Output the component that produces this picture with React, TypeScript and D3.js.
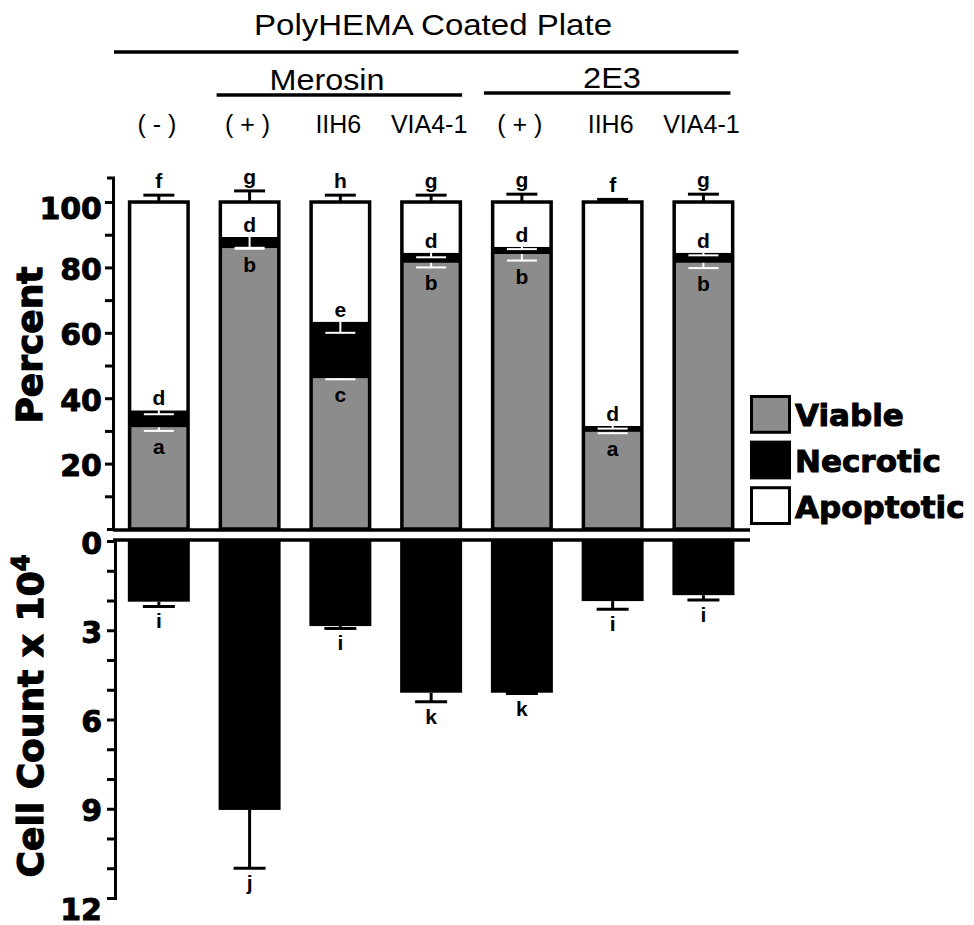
import React, { useEffect, useRef } from 'react';
import * as d3 from 'd3';

// values
const categories = ['( - )', '( + )', 'IIH6', 'VIA4-1', '( + )', 'IIH6', 'VIA4-1'];
const viable = [31.1, 85.9, 46.1, 81.4, 84.1, 29.7, 81.4];
const necrotic = [5.2, 3.4, 17.3, 3.1, 2.2, 1.8, 3.1];
const viableErr = [1.1, 0.2, 0.3, 1.4, 2.0, 0.4, 1.6];
const necroticErr = [1.2, 3.3, 3.4, 1.4, 0.7, 0.8, 0.8];
const apoptoticErr = [2.1, 3.4, 2.1, 2.1, 2.4, 0.8, 2.4];
const viableLetters = ['a', 'b', 'c', 'b', 'b', 'a', 'b'];
const necroticLetters = ['d', 'd', 'e', 'd', 'd', 'd', 'd'];
const apoptoticLetters = ['f', 'g', 'h', 'g', 'g', 'f', 'g'];
const cellCount = [2.04, 9.04, 2.86, 5.1, 5.1, 2.02, 1.82];
const cellErr = [0.16, 1.96, 0.08, 0.3, 0.03, 0.27, 0.16];
const cellLetters = ['i', 'j', 'i', 'k', 'k', 'i', 'i'];
const seriesKeys = ['Viable', 'Necrotic', 'Apoptotic'];
const seriesColors = ['#8c8c8c', '#000000', '#ffffff'];
const percentTicks = [20, 40, 60, 80, 100];
const percentMinor = [10, 30, 50, 70, 90];
const countTicks = [0, 3, 6, 9, 12];
const countMinor = [1, 2, 4, 5, 7, 8, 10, 11];

const W = 974, H = 925;
const bold = "'DejaVu Sans', sans-serif";
const arial = "'Liberation Sans', Arial, sans-serif";

const App = () => {
  const topAxis = useRef<SVGGElement>(null);
  const lowAxis = useRef<SVGGElement>(null);

  const idx = d3.range(categories.length);
  const x = d3.scaleBand<number>().domain(idx).range([113.5, 748.75]).paddingInner(0.317).paddingOuter(0.158);
  const bw = x.bandwidth();
  const yTop = d3.scaleLinear().domain([0, 107.5]).range([529, 177.5]);
  const yLow = d3.scaleLinear().domain([0, 12]).range([541, 898]);

  const table = idx.map(i => ({
    Viable: viable[i],
    Necrotic: necrotic[i],
    Apoptotic: 100 - viable[i] - necrotic[i],
  }));
  const stacked = d3.stack<any>().keys(seriesKeys)(table);
  const color = d3.scaleOrdinal<string, string>().domain(seriesKeys).range(seriesColors);
  const legendY = d3.scaleBand<string>().domain(seriesKeys).range([395, 525]).paddingInner(0.15);

  useEffect(() => {
    const style = (g: any) => {
      g.selectAll('path, line').attr('stroke-width', 3);
      g.selectAll('text').attr('font-family', bold).attr('font-weight', 'bold')
        .attr('font-size', 30).attr('dy', '0.4em')
        .attr('stroke', '#000').attr('stroke-width', 0.9);
    };
    const t = d3.select(topAxis.current);
    t.selectAll('*').remove();
    t.append('g').call(d3.axisLeft(yTop).tickValues(percentTicks).tickSize(8).tickPadding(3).tickSizeOuter(6)).call(style);
    t.append('g').call(d3.axisLeft(yTop).tickValues(percentMinor).tickSize(8).tickFormat(() => ''))
      .call(g => g.select('.domain').remove()).call(style);
    t.selectAll('.tick text').filter((d: any) => d === 100).attr('dy', '0.55em');

    const l = d3.select(lowAxis.current);
    l.selectAll('*').remove();
    l.append('g').call(d3.axisLeft(yLow).tickValues(countTicks).tickSize(8).tickPadding(5).tickSizeOuter(8)).call(style);
    l.append('g').call(d3.axisLeft(yLow).tickValues(countMinor).tickSize(8).tickFormat(() => ''))
      .call(g => g.select('.domain').remove()).call(style);
    l.selectAll('.tick text').filter((d: any) => d === 12).attr('dy', '0.7em');
  }, []);

  const xc = (i: number) => (x(i) as number) + bw / 2;
  const sw = 3.5;

  return (
    <svg width={W} height={H} style={{ position: 'absolute', left: 0, top: 0, background: '#fff' }}>
      {/* header */}
      <text x={433} y={35} fontFamily={arial} fontSize={29} textAnchor="middle" textLength={358} lengthAdjust="spacingAndGlyphs">PolyHEMA Coated Plate</text>
      <line x1={114} x2={(x(6) as number) + bw + 4} y1={52} y2={52} stroke="#000" strokeWidth={3.5} />
      <text x={327} y={90} fontFamily={arial} fontSize={29} textAnchor="middle" textLength={115} lengthAdjust="spacingAndGlyphs">Merosin</text>
      <line x1={(x(1) as number) - 2} x2={(x(3) as number) + bw} y1={95} y2={95} stroke="#000" strokeWidth={3.5} />
      <text x={612} y={88} fontFamily={arial} fontSize={29} textAnchor="middle" textLength={58} lengthAdjust="spacingAndGlyphs">2E3</text>
      <line x1={(x(4) as number) - 7} x2={(x(6) as number) + bw - 4} y1={93} y2={93} stroke="#000" strokeWidth={3.5} />
      {categories.map((c, i) => (
        <text key={'c' + i} x={xc(i) - 2} y={133} fontFamily={arial} fontSize={25} textAnchor="middle" style={{ whiteSpace: 'pre' }}>{c}</text>
      ))}

      {/* top panel: stacked percent bars */}
      {stacked.map(layer => (
        <g key={layer.key} fill={color(layer.key)}>
          {layer.map((d, i) => (
            <rect key={i} x={(x(i) as number) + sw / 2} width={bw - sw} y={yTop(d[1])} height={yTop(d[0]) - yTop(d[1])} />
          ))}
        </g>
      ))}
      {idx.map(i => (
        <rect key={'o' + i} x={(x(i) as number) + sw / 2} width={bw - sw} y={yTop(100)} height={yTop(0) - yTop(100)}
          fill="none" stroke="#000" strokeWidth={sw} />
      ))}
      {/* white error bars inside bars */}
      {idx.map(i => {
        const v = viable[i], n = viable[i] + necrotic[i];
        return (
          <g key={'we' + i} stroke="#fff" strokeWidth={2}>
            <line x1={xc(i)} x2={xc(i)} y1={yTop(n)} y2={yTop(n - necroticErr[i])} />
            <line x1={xc(i) - 15} x2={xc(i) + 15} y1={yTop(n - necroticErr[i])} y2={yTop(n - necroticErr[i])} />
            <line x1={xc(i)} x2={xc(i)} y1={yTop(v)} y2={yTop(v - viableErr[i])} />
            <line x1={xc(i) - 15} x2={xc(i) + 15} y1={yTop(v - viableErr[i])} y2={yTop(v - viableErr[i])} />
          </g>
        );
      })}
      {/* black error bars above */}
      {idx.map(i => (
        <g key={'be' + i} stroke="#000" strokeWidth={3}>
          <line x1={xc(i)} x2={xc(i)} y1={yTop(100)} y2={yTop(100 + apoptoticErr[i])} />
          <line x1={xc(i) - 15.5} x2={xc(i) + 15.5} y1={yTop(100 + apoptoticErr[i])} y2={yTop(100 + apoptoticErr[i])} />
        </g>
      ))}
      {/* significance letters */}
      <g fontFamily={arial} fontWeight="bold" fontSize={21} textAnchor="middle">
        {idx.map(i => (
          <g key={'l' + i}>
            <text x={xc(i)} y={yTop(100 + apoptoticErr[i]) - 7}>{apoptoticLetters[i]}</text>
            <text x={xc(i)} y={yTop(viable[i] + necrotic[i]) - 5}>{necroticLetters[i]}</text>
            <text x={xc(i)} y={yTop(viable[i] - viableErr[i]) + 23}>{viableLetters[i]}</text>
          </g>
        ))}
      </g>
      <line x1={113} x2={750} y1={530} y2={530} stroke="#000" strokeWidth={3.5} />
      <g ref={topAxis} transform="translate(113,0)" />

      {/* lower panel: cell counts hanging down */}
      <line x1={113} x2={750} y1={540} y2={540} stroke="#000" strokeWidth={3.5} />
      {idx.map(i => (
        <g key={'cc' + i}>
          <rect x={x(i) as number} width={bw} y={yLow(0)} height={yLow(cellCount[i]) - yLow(0)} fill="#000" />
          <g stroke="#000" strokeWidth={3}>
            <line x1={xc(i)} x2={xc(i)} y1={yLow(cellCount[i])} y2={yLow(cellCount[i] + cellErr[i])} />
            <line x1={xc(i) - 16} x2={xc(i) + 16} y1={yLow(cellCount[i] + cellErr[i])} y2={yLow(cellCount[i] + cellErr[i])} />
          </g>
          <text x={xc(i)} y={yLow(cellCount[i] + cellErr[i]) + 22} fontFamily={arial} fontWeight="bold" fontSize={21} textAnchor="middle">{cellLetters[i]}</text>
        </g>
      ))}
      <g ref={lowAxis} transform="translate(115,0)" />

      {/* axis titles */}
      <text transform="translate(42,345) rotate(-90)" fontFamily={bold} fontWeight="bold" fontSize={36} textAnchor="middle"
        stroke="#000" strokeWidth={1.2}>Percent</text>
      <text transform="translate(43,716) rotate(-90)" fontFamily={bold} fontWeight="bold" fontSize={36} textAnchor="middle"
        stroke="#000" strokeWidth={1.2}>
        Cell Count x 10<tspan fontSize={24} dy={-14}>4</tspan>
      </text>

      {/* legend */}
      {seriesKeys.map(k => (
        <g key={k}>
          <rect x={751.5} y={(legendY(k) as number) + 1.5} width={38} height={legendY.bandwidth() - 3}
            fill={color(k)} stroke="#000" strokeWidth={3} />
          <text x={795} y={(legendY(k) as number) + legendY.bandwidth() / 2 + 12} fontFamily={bold} fontWeight="bold" fontSize={31}
            stroke="#000" strokeWidth={1}>{k}</text>
        </g>
      ))}
    </svg>
  );
};

export default App;
